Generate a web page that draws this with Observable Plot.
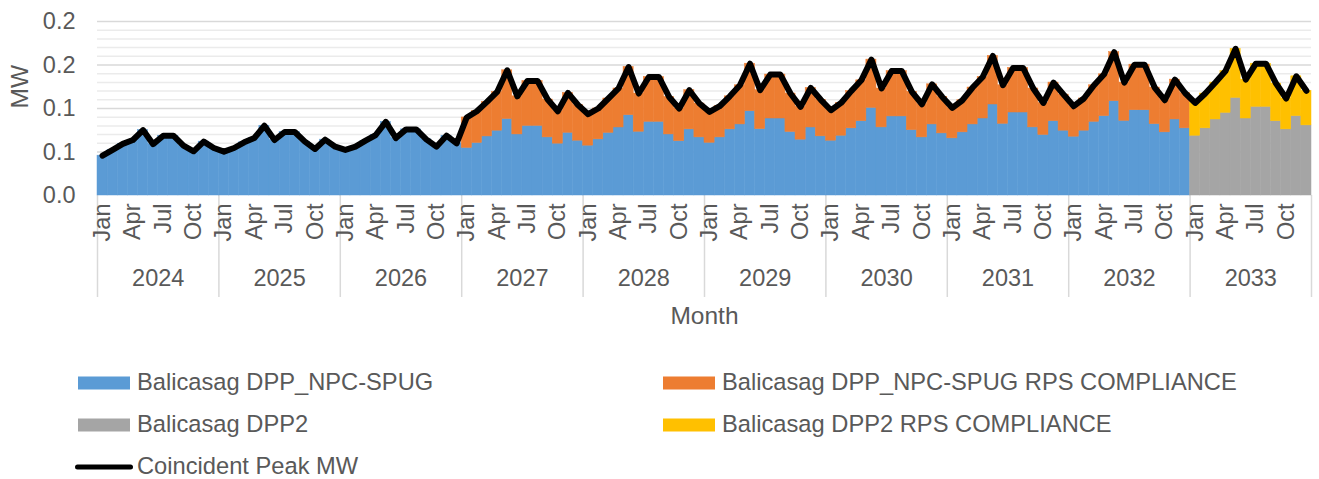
<!DOCTYPE html>
<html><head><meta charset="utf-8">
<script src="https://cdn.jsdelivr.net/npm/d3@7"></script>
<script src="https://cdn.jsdelivr.net/npm/@observablehq/plot@0.6"></script>
<style>
body{margin:0;background:#fff;font-family:"Liberation Sans",Arial,sans-serif;}
#wrap{position:relative;width:1319px;height:479px;overflow:hidden;}
#chart svg{display:block;}
.lg{position:absolute;font-size:23.7px;color:#595959;line-height:1;white-space:nowrap;transform:translateY(-50%);}
.sw{position:absolute;transform:translateY(-50%);}
</style></head><body><div id="wrap"><div id="chart"></div></div>
<script>
const years = [2024, 2025, 2026, 2027, 2028, 2029, 2030, 2031, 2032, 2033];
const monthTickLabels = ["Jan", "Apr", "Jul", "Oct"];
const monthTickIndex = [0, 3, 6, 9];
const yTicks = [0, 0.05, 0.1, 0.15, 0.2];
const yTickLabels = ["0.0", "0.1", "0.1", "0.2", "0.2"];
const seriesNames = ["Balicasag DPP_NPC-SPUG", "Balicasag DPP_NPC-SPUG RPS COMPLIANCE", "Balicasag DPP2", "Balicasag DPP2 RPS COMPLIANCE"];
const seriesColors = ["#5b9bd5", "#ed7d31", "#a5a5a5", "#ffc000"];
const lineName = "Coincident Peak MW";

// Coincident Peak MW, Jan 2024 .. Dec 2033
const peakMW = [
  0.0458, 0.0524, 0.0593, 0.0638, 0.0752, 0.0590, 0.0687, 0.0687, 0.0573, 0.0508, 0.0619, 0.0546,
  0.0504, 0.0546, 0.0611, 0.0661, 0.0802, 0.0638, 0.0730, 0.0730, 0.0619, 0.0535, 0.0642, 0.0561,
  0.0524, 0.0561, 0.0630, 0.0695, 0.0847, 0.0660, 0.0760, 0.0760, 0.0645, 0.0561, 0.0687, 0.0599,
  0.0897, 0.0969, 0.1076, 0.1190, 0.1439, 0.1140, 0.1316, 0.1316, 0.1103, 0.0969, 0.1179, 0.1040,
  0.0935, 0.1000, 0.1115, 0.1230, 0.1477, 0.1172, 0.1362, 0.1362, 0.1133, 0.1000, 0.1210, 0.1057,
  0.0961, 0.1026, 0.1140, 0.1267, 0.1515, 0.1210, 0.1390, 0.1390, 0.1172, 0.1019, 0.1236, 0.1100,
  0.0980, 0.1064, 0.1200, 0.1324, 0.1562, 0.1230, 0.1430, 0.1430, 0.1192, 0.1049, 0.1278, 0.1133,
  0.1007, 0.1095, 0.1241, 0.1362, 0.1604, 0.1267, 0.1466, 0.1466, 0.1230, 0.1064, 0.1298, 0.1160,
  0.1026, 0.1115, 0.1267, 0.1393, 0.1647, 0.1298, 0.1504, 0.1504, 0.1241, 0.1095, 0.1332, 0.1178,
  0.1064, 0.1172, 0.1298, 0.1430, 0.1686, 0.1332, 0.1515, 0.1515, 0.1287, 0.1115, 0.1370, 0.1203
];
// Balicasag DPP_NPC-SPUG, Jan 2024 .. Dec 2032
const npcSpug = [
  0.0458, 0.0524, 0.0593, 0.0638, 0.0752, 0.0590, 0.0687, 0.0687, 0.0573, 0.0508, 0.0619, 0.0546,
  0.0504, 0.0546, 0.0611, 0.0661, 0.0802, 0.0638, 0.0730, 0.0730, 0.0619, 0.0535, 0.0642, 0.0561,
  0.0524, 0.0561, 0.0630, 0.0695, 0.0847, 0.0660, 0.0760, 0.0760, 0.0645, 0.0561, 0.0687, 0.0599,
  0.0547, 0.0604, 0.0679, 0.0745, 0.0879, 0.0702, 0.0800, 0.0800, 0.0668, 0.0596, 0.0721, 0.0630,
  0.0573, 0.0645, 0.0720, 0.0782, 0.0923, 0.0733, 0.0847, 0.0847, 0.0702, 0.0625, 0.0760, 0.0668,
  0.0606, 0.0668, 0.0760, 0.0817, 0.0969, 0.0763, 0.0885, 0.0885, 0.0730, 0.0642, 0.0782, 0.0680,
  0.0630, 0.0687, 0.0772, 0.0854, 0.1007, 0.0783, 0.0909, 0.0909, 0.0751, 0.0668, 0.0817, 0.0714,
  0.0657, 0.0726, 0.0817, 0.0885, 0.1046, 0.0824, 0.0954, 0.0954, 0.0783, 0.0696, 0.0854, 0.0745,
  0.0676, 0.0745, 0.0847, 0.0912, 0.1084, 0.0858, 0.0980, 0.0980, 0.0820, 0.0726, 0.0874, 0.0772
];
// Balicasag DPP_NPC-SPUG RPS COMPLIANCE, Jan 2027 .. Dec 2032
const npcSpugRps = [
  0.0350, 0.0365, 0.0397, 0.0445, 0.0560, 0.0438, 0.0516, 0.0516, 0.0435, 0.0373, 0.0458, 0.0410,
  0.0362, 0.0355, 0.0395, 0.0448, 0.0554, 0.0439, 0.0515, 0.0515, 0.0431, 0.0375, 0.0450, 0.0389,
  0.0355, 0.0358, 0.0380, 0.0450, 0.0546, 0.0447, 0.0505, 0.0505, 0.0442, 0.0377, 0.0454, 0.0420,
  0.0350, 0.0377, 0.0428, 0.0470, 0.0555, 0.0447, 0.0521, 0.0521, 0.0441, 0.0381, 0.0461, 0.0419,
  0.0350, 0.0369, 0.0424, 0.0477, 0.0558, 0.0443, 0.0512, 0.0512, 0.0447, 0.0368, 0.0444, 0.0415,
  0.0350, 0.0370, 0.0420, 0.0481, 0.0563, 0.0440, 0.0524, 0.0524, 0.0421, 0.0369, 0.0458, 0.0406
];
// Balicasag DPP2, Jan 2033 .. Dec 2033
const dpp2 = [0.0687, 0.0772, 0.0874, 0.0950, 0.1122, 0.0885, 0.1019, 0.1019, 0.0854, 0.0760, 0.0912, 0.0806];
// Balicasag DPP2 RPS COMPLIANCE, Jan 2033 .. Dec 2033
const dpp2Rps = [0.0377, 0.0400, 0.0424, 0.0480, 0.0564, 0.0447, 0.0496, 0.0496, 0.0433, 0.0355, 0.0458, 0.0397];

// Build tables (month index i = 0..119)
const rows = [];
npcSpug.forEach((v, k) => rows.push({i: k, series: seriesNames[0], value: v}));
npcSpugRps.forEach((v, k) => rows.push({i: 36 + k, series: seriesNames[1], value: v}));
dpp2.forEach((v, k) => rows.push({i: 108 + k, series: seriesNames[2], value: v}));
dpp2Rps.forEach((v, k) => rows.push({i: 108 + k, series: seriesNames[3], value: v}));
const peakRows = peakMW.map((v, k) => ({xc: k + 0.5, peak: v}));
const monthLabelRows = [];
years.forEach((y, yi) => monthTickIndex.forEach((m, j) => monthLabelRows.push({xc: yi * 12 + m + 0.5, label: monthTickLabels[j]})));
const yearRows = years.map((y, yi) => ({xc: yi * 12 + 6, label: String(y)}));
const yearBounds = d3.range(0, years.length + 1).map(k => k * 12);
const minorTicks = d3.range(1, 21).filter(k => k % 5 !== 0).map(k => k / 100);

const chart = Plot.plot({
  width: 1319, height: 340,
  marginLeft: 97, marginRight: 8, marginTop: 21, marginBottom: 145,
  style: {fontFamily: "'Liberation Sans', Arial, sans-serif", fontSize: "23.5px", color: "#595959", background: "#fff"},
  x: {type: "linear", domain: [0, 120]},
  y: {domain: [0, 0.2]},
  color: {domain: seriesNames, range: seriesColors},
  marks: [
    Plot.ruleY(minorTicks, {stroke: "#ebebeb", strokeWidth: 1.5}),
    Plot.ruleY(yTicks.slice(1), {stroke: "#d9d9d9", strokeWidth: 1.5}),
    Plot.axisX(yearBounds, {tickSize: 102, tickFormat: () => "", stroke: "#d9d9d9", strokeWidth: 1.5, label: null}),
    Plot.rectY(rows, {x: "i", interval: 1, y: "value", fill: "series", stroke: "series", strokeWidth: 0.5, inset: 0, order: seriesNames}),
    Plot.line(peakRows, {x: "xc", y: "peak", stroke: "#000", strokeWidth: 6, strokeLinejoin: "round", strokeLinecap: "round"}),
    Plot.axisY(yTicks, {tickSize: 0, tickPadding: 22, tickFormat: d => yTickLabels[yTicks.indexOf(d)], label: null, fill: "#595959"}),
    Plot.text(["MW"], {frameAnchor: "left", dx: -77, rotate: -90, lineAnchor: "middle", fontSize: 24.5, fill: "#595959"}),
    Plot.text(monthLabelRows, {x: "xc", frameAnchor: "bottom", dy: 8, rotate: -90, textAnchor: "end", lineAnchor: "middle", text: "label", fill: "#595959"}),
    Plot.text(yearRows, {x: "xc", frameAnchor: "bottom", dy: 83, lineAnchor: "middle", text: "label", fill: "#595959"}),
    Plot.text(["Month"], {frameAnchor: "bottom", dy: 121, lineAnchor: "middle", fontSize: 24.5, fill: "#595959"})
  ]
});
document.getElementById("chart").appendChild(chart);

// Legend (HTML, below the SVG)
const wrap = document.getElementById("wrap");
const legendItems = [
  {name: seriesNames[0], color: seriesColors[0], sx: 78, tx: 137, y: 383, line: false},
  {name: seriesNames[1], color: seriesColors[1], sx: 663, tx: 722, y: 383, line: false},
  {name: seriesNames[2], color: seriesColors[2], sx: 78, tx: 137, y: 425, line: false},
  {name: seriesNames[3], color: seriesColors[3], sx: 663, tx: 722, y: 425, line: false},
  {name: lineName, color: "#000", sx: 75, tx: 137, y: 467, line: true}
];
legendItems.forEach(it => {
  const sw = document.createElement("div");
  sw.className = "sw";
  sw.style.left = it.sx + "px";
  sw.style.top = it.y + "px";
  sw.style.width = (it.line ? 58 : 52) + "px";
  sw.style.height = (it.line ? 5 : 13) + "px";
  sw.style.background = it.color;
  if (it.line) sw.style.borderRadius = "3px";
  wrap.appendChild(sw);
  const t = document.createElement("div");
  t.className = "lg";
  t.style.left = it.tx + "px";
  t.style.top = it.y + "px";
  t.textContent = it.name;
  wrap.appendChild(t);
});
</script></body></html>
